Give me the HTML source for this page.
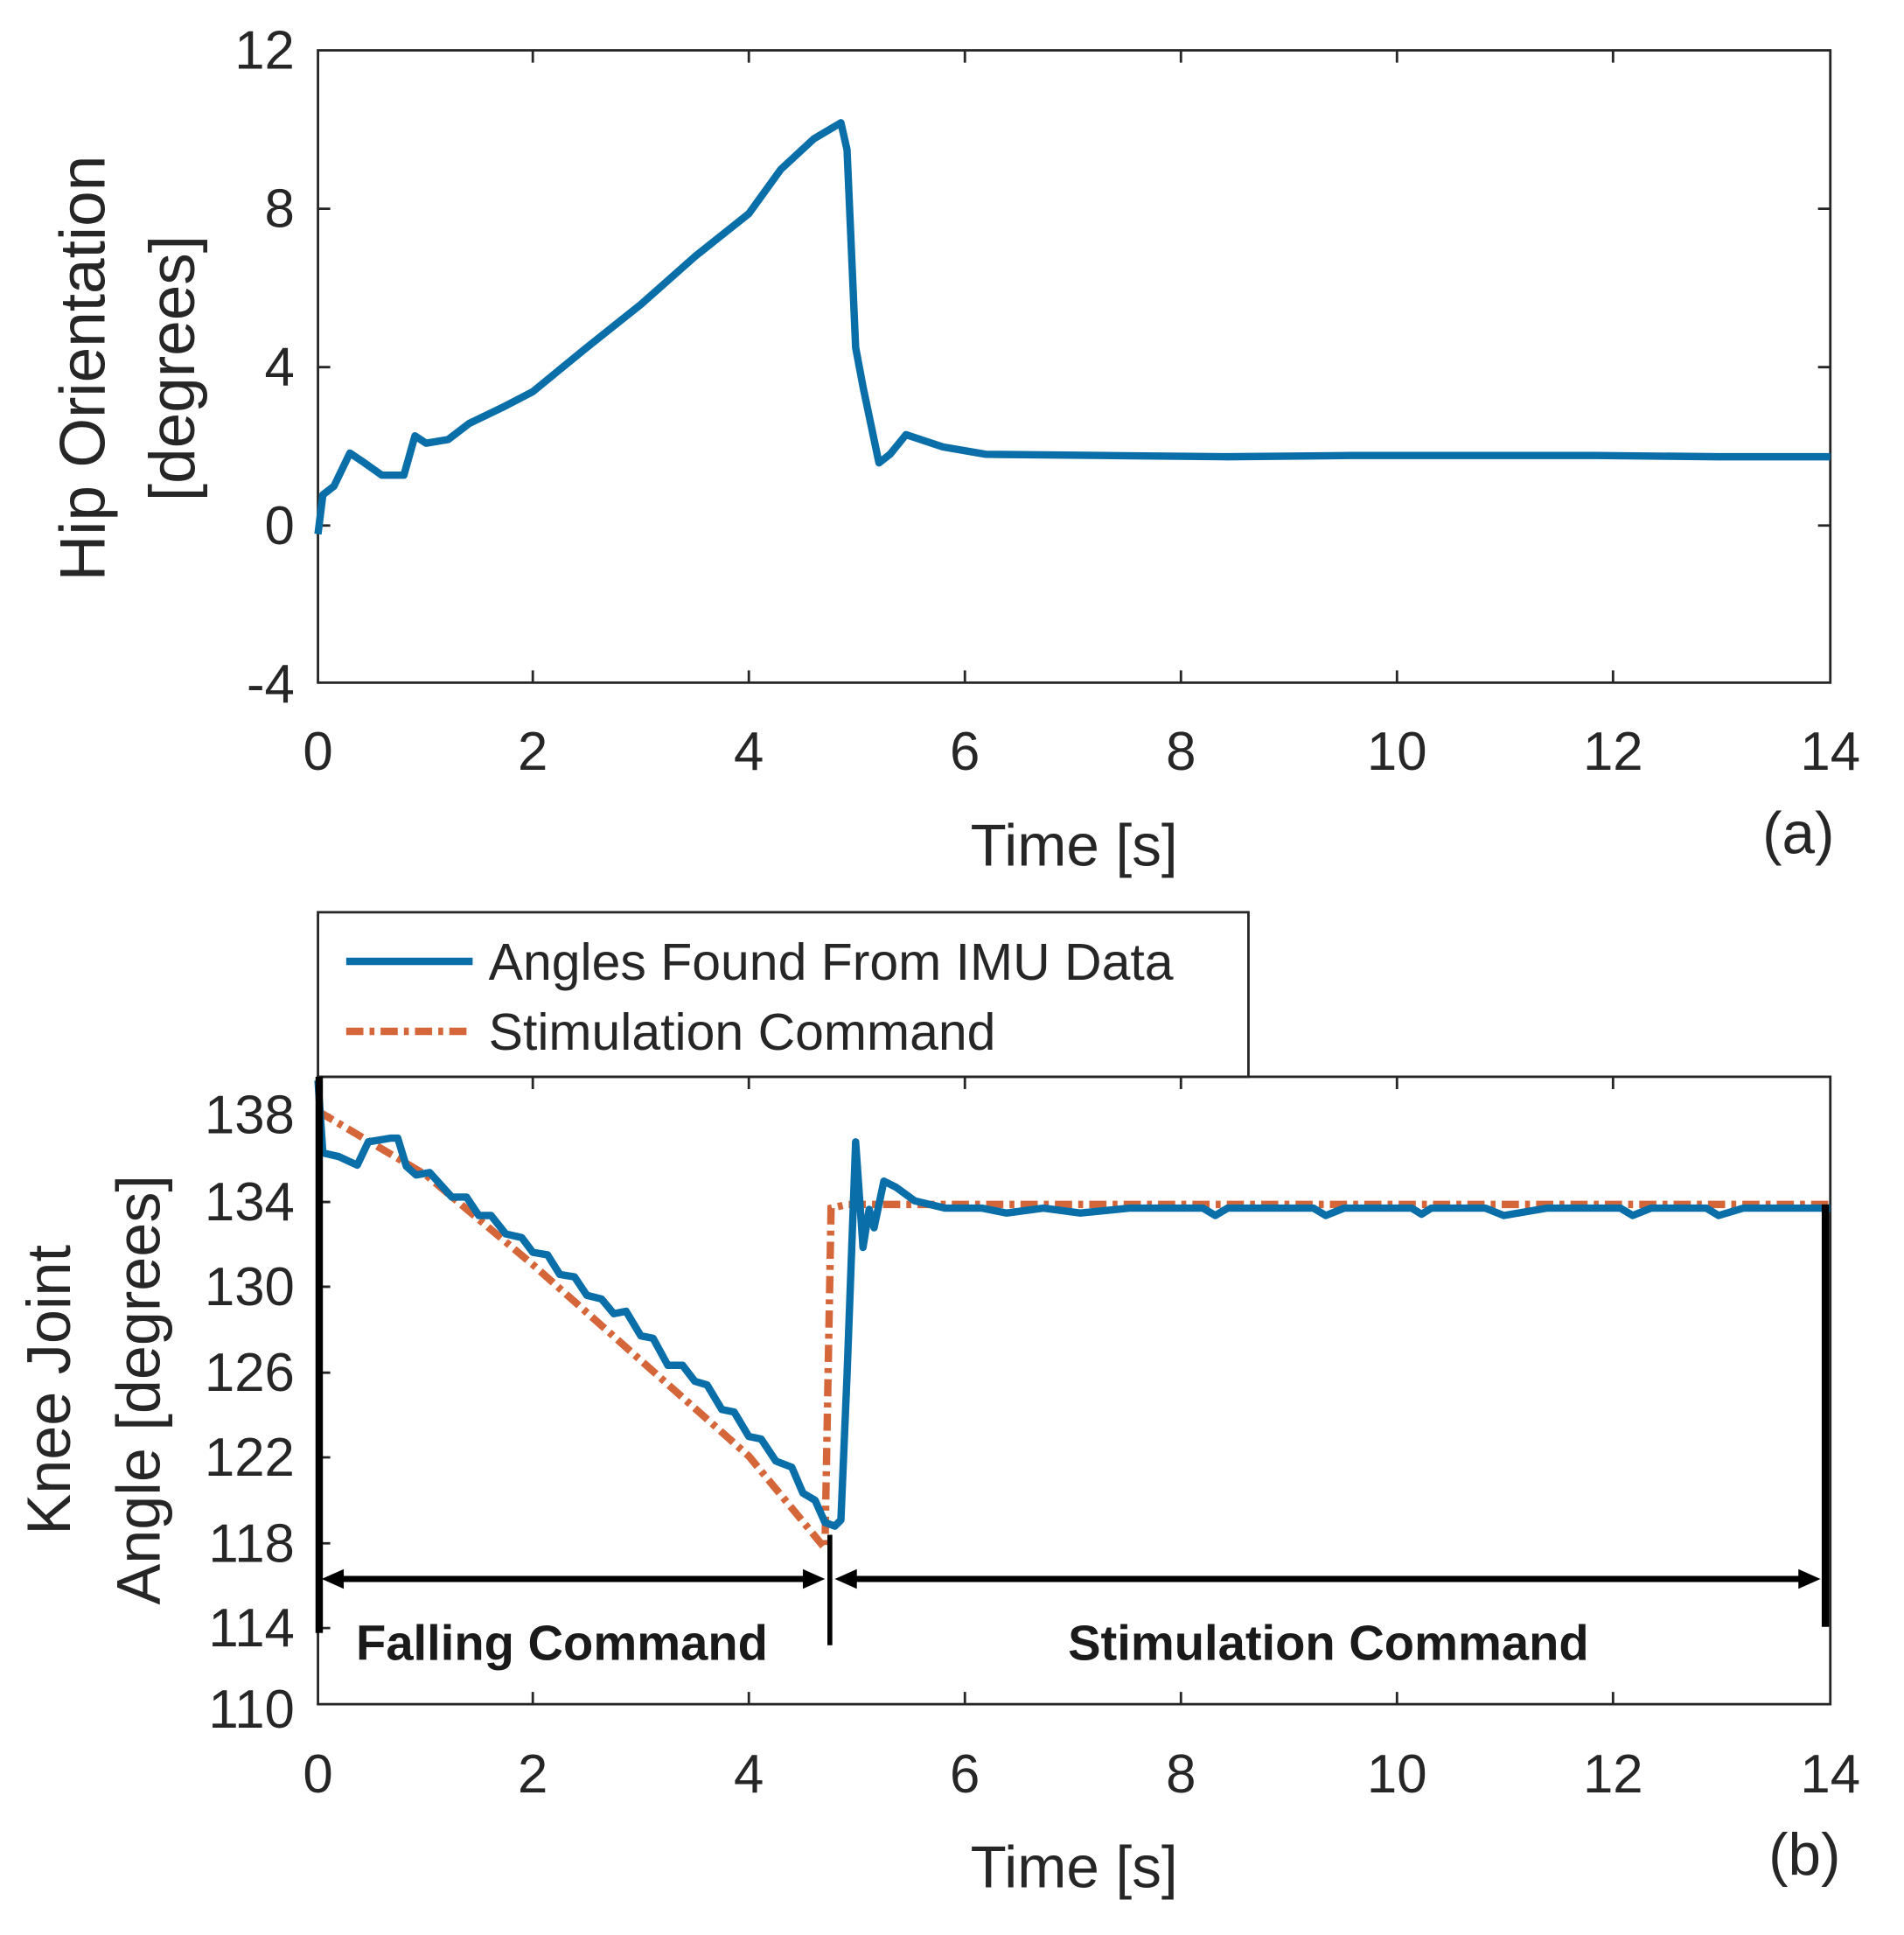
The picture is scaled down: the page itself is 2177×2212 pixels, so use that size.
<!DOCTYPE html>
<html><head><meta charset="utf-8"><style>
html,body{margin:0;padding:0;background:#fff;}
svg{display:block;}
text{font-family:"Liberation Sans",sans-serif;fill:#262626;}
</style></head><body>
<svg width="2177" height="2212" viewBox="0 0 1551 1576" xmlns="http://www.w3.org/2000/svg">
<rect width="1551" height="1576" fill="#fff"/>
<!-- Plot a -->
<g stroke="#262626" stroke-width="2" fill="none">
<rect x="259" y="41" width="1232" height="515"/>
<path d="M434,556v-10M610,556v-10M786,556v-10M962,556v-10M1138,556v-10M1314,556v-10M434,41v10M610,41v10M786,41v10M962,41v10M1138,41v10M1314,41v10M259,170h10M259,299h10M259,428h10M1491,170h-10M1491,299h-10M1491,428h-10"/>
</g>
<g font-size="44" text-anchor="end">
<text x="240" y="56">12</text><text x="240" y="185">8</text><text x="240" y="314">4</text><text x="240" y="443">0</text><text x="240" y="572">-4</text>
</g>
<g font-size="44" text-anchor="middle">
<text x="259" y="627">0</text><text x="434" y="627">2</text><text x="610" y="627">4</text><text x="786" y="627">6</text><text x="962" y="627">8</text><text x="1138" y="627">10</text><text x="1314" y="627">12</text><text x="1491" y="627">14</text>
<text x="875" y="705" font-size="48">Time [s]</text>
<text x="1465" y="695" font-size="48">(a)</text>
<text transform="translate(85,300) rotate(-90)" font-size="52">Hip Orientation</text>
<text transform="translate(158,300) rotate(-90)" font-size="52">[degrees]</text>
</g>
<polyline fill="none" stroke="#0a6ea8" stroke-width="6" stroke-linejoin="round" points="259,435 263,403 272,396 285,369 294,375 311,387 329,387 338,355 347,361 365,358 382,345 409,332 434,319 478,283 522,248 566,209 610,174 636,138 663,113 685,100 690,122 697,283 703,315 716,377 725,370 738,354 768,364 803,370 900,371 1000,372 1100,371 1200,371 1300,371 1400,372 1491,372"/>
<!-- Plot b -->
<g stroke="#262626" stroke-width="2" fill="none">
<rect x="259" y="877" width="1232" height="511"/>
<path d="M434,1388v-10M610,1388v-10M786,1388v-10M962,1388v-10M1138,1388v-10M1314,1388v-10M434,877v10M610,877v10M786,877v10M962,877v10M1138,877v10M1314,877v10M259,908h10M259,979h10M259,1048h10M259,1118h10M259,1187h10M259,1257h10M259,1326h10"/>
<rect x="259" y="743" width="758" height="134" fill="#fff"/>
</g>
<g font-size="44" text-anchor="end">
<text x="240" y="923">138</text><text x="240" y="994">134</text><text x="240" y="1063">130</text><text x="240" y="1133">126</text><text x="240" y="1202">122</text><text x="240" y="1272">118</text><text x="240" y="1341">114</text><text x="240" y="1407">110</text>
</g>
<g font-size="44" text-anchor="middle">
<text x="259" y="1460">0</text><text x="434" y="1460">2</text><text x="610" y="1460">4</text><text x="786" y="1460">6</text><text x="962" y="1460">8</text><text x="1138" y="1460">10</text><text x="1314" y="1460">12</text><text x="1491" y="1460">14</text>
<text x="875" y="1537" font-size="48">Time [s]</text>
<text x="1470" y="1527" font-size="48">(b)</text>
<text transform="translate(57,1132) rotate(-90)" font-size="50">Knee Joint</text>
<text transform="translate(130,1132) rotate(-90)" font-size="50">Angle [degrees]</text>
</g>
<line x1="282" y1="783" x2="385" y2="783" stroke="#0a6ea8" stroke-width="6"/>
<line x1="282" y1="840" x2="385" y2="840" stroke="#d4663a" stroke-width="6" stroke-dasharray="14,5,4,5"/>
<text x="398" y="798" font-size="42">Angles Found From IMU Data</text>
<text x="398" y="855" font-size="42">Stimulation Command</text>
<polyline fill="none" stroke="#d4663a" stroke-width="6" stroke-dasharray="14,5,4,5" points="259,905 347,957 434,1030 522,1108 610,1186 672,1261 677,984 690,981 1491,981"/>
<polyline fill="none" stroke="#0a6ea8" stroke-width="6" stroke-linejoin="round" points="259,880 263,939 276,942 291,949 300,930 318,927 324,927 331,950 339,957 350,955 368,975 380,975 390,990 400,990 412,1005 425,1008 434,1020 446,1022 456,1038 468,1040 478,1055 490,1058 500,1070 510,1068 522,1088 532,1090 544,1112 556,1112 566,1125 576,1128 588,1148 598,1150 610,1170 620,1172 632,1190 645,1195 654,1216 664,1222 672,1240 680,1243 685,1238 690,1120 697,930 703,1016 708,985 712,1000 720,962 730,967 745,978 770,984 800,984 820,988 850,984 880,988 920,984 980,984 990,990 1000,984 1070,984 1080,990 1095,984 1150,984 1158,989 1166,984 1210,984 1225,990 1260,984 1320,984 1330,990 1345,984 1390,984 1400,990 1420,984 1491,984"/>
<!-- annotations -->
<g stroke="#000" fill="none">
<line x1="260" y1="877" x2="260" y2="1330" stroke-width="6"/>
<line x1="676" y1="1250" x2="676" y2="1340" stroke-width="4"/>
<line x1="1487" y1="981" x2="1487" y2="1325" stroke-width="6"/>
<line x1="272" y1="1286" x2="664" y2="1286" stroke-width="5"/>
<line x1="690" y1="1286" x2="1475" y2="1286" stroke-width="5"/>
</g>
<g fill="#000">
<polygon points="262,1286 280,1278 280,1294"/>
<polygon points="672,1286 654,1278 654,1294"/>
<polygon points="680,1286 698,1278 698,1294"/>
<polygon points="1483,1286 1465,1278 1465,1294"/>
</g>
<text x="290" y="1352" font-size="40" font-weight="bold" style="fill:#1a1a1a">Falling Command</text>
<text x="870" y="1352" font-size="40" font-weight="bold" style="fill:#1a1a1a">Stimulation Command</text>
</svg>
</body></html>
